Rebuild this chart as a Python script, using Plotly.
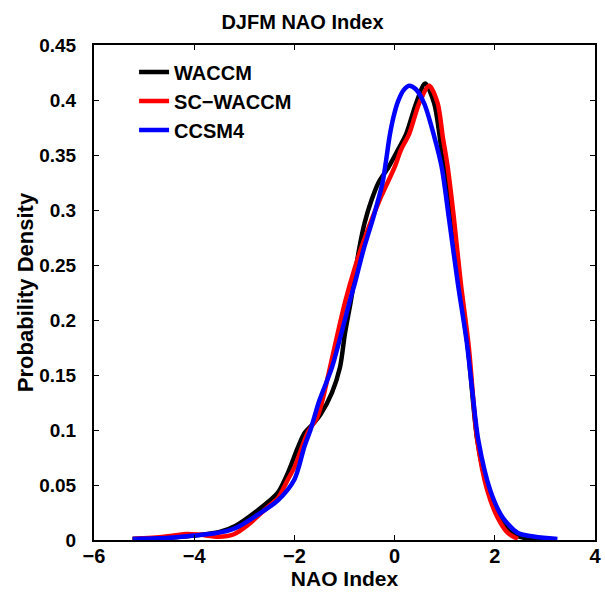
import plotly.graph_objects as go

# NAO index values (x) and probability densities (y)
waccm_x = [-5.23, -4.5, -4.01, -3.51, -3.18, -2.73, -2.33, -2.13, -1.94, -1.80, -1.62, -1.48,
           -1.25, -1.09, -0.99, -0.87, -0.71, -0.60, -0.46, -0.32, -0.12, 0.07, 0.23, 0.43,
           0.61, 0.79, 0.90, 0.98, 1.12, 1.28, 1.46, 1.65, 1.87, 2.09, 2.34, 2.70, 3.1]
waccm_y = [0.001, 0.002, 0.004, 0.007, 0.0127, 0.027, 0.043, 0.061, 0.083, 0.097, 0.106, 0.114,
           0.134, 0.157, 0.188, 0.218, 0.264, 0.288, 0.309, 0.325, 0.339, 0.355, 0.369, 0.397,
           0.415, 0.397, 0.367, 0.339, 0.294, 0.234, 0.176, 0.091, 0.045, 0.021, 0.006, 0.001, 0.0005]

sc_waccm_x = [-5.23, -4.6, -4.17, -3.91, -3.51, -3.22, -2.92, -2.53, -2.33, -2.13, -2.00, -1.74,
              -1.54, -1.44, -1.21, -0.99, -0.79, -0.56, -0.30, 0.0, 0.13, 0.29, 0.49, 0.69,
              0.86, 0.96, 1.06, 1.18, 1.32, 1.48, 1.65, 1.85, 2.05, 2.26, 2.46]
sc_waccm_y = [0.001, 0.003, 0.0055, 0.005, 0.003, 0.005, 0.014, 0.03, 0.038, 0.055, 0.066, 0.097,
              0.112, 0.127, 0.173, 0.216, 0.248, 0.279, 0.309, 0.339, 0.355, 0.369, 0.397, 0.413,
              0.397, 0.367, 0.339, 0.294, 0.234, 0.176, 0.091, 0.045, 0.021, 0.0064, 0.001]

ccsm4_x = [-5.23, -4.5, -4.01, -3.61, -3.32, -3.12, -2.73, -2.33, -2.00, -1.80, -1.68, -1.50,
           -1.25, -0.89, -0.79, -0.62, -0.42, -0.24, -0.17, -0.10, -0.02, 0.07, 0.18, 0.29,
           0.42, 0.59, 0.79, 0.94, 1.08, 1.26, 1.44, 1.55, 1.67, 1.91, 2.15, 2.46, 2.80, 3.25]
ccsm4_y = [0.001, 0.002, 0.004, 0.006, 0.0085, 0.012, 0.023, 0.036, 0.055, 0.085, 0.10, 0.127,
           0.157, 0.218, 0.234, 0.264, 0.294, 0.325, 0.345, 0.367, 0.385, 0.399, 0.409, 0.413,
           0.410, 0.397, 0.367, 0.339, 0.294, 0.234, 0.18, 0.136, 0.091, 0.045, 0.021, 0.0064,
           0.003, 0.001]

x_ticks = [-6, -4, -2, 0, 2, 4]
x_tick_labels = ["\u22126", "\u22124", "\u22122", "0", "2", "4"]
y_ticks = [0, 0.05, 0.1, 0.15, 0.2, 0.25, 0.3, 0.35, 0.4, 0.45]
y_tick_labels = ["0", "0.05", "0.1", "0.15", "0.2", "0.25", "0.3", "0.35", "0.4", "0.45"]

series = [
    ("WACCM", waccm_x, waccm_y, "#000000"),
    ("SC\u2212WACCM", sc_waccm_x, sc_waccm_y, "#ff0000"),
    ("CCSM4", ccsm4_x, ccsm4_y, "#0000ff"),
]

FONT = "Liberation Sans, Arial, sans-serif"

fig = go.Figure()
for name, xs, ys, color in series:
    fig.add_trace(go.Scatter(
        x=xs, y=ys, mode="lines", name=name,
        line=dict(color=color, width=4.5, shape="spline", smoothing=0.8),
    ))

fig.update_layout(
    width=605, height=595,
    margin=dict(l=94, r=4, t=45, b=55),
    paper_bgcolor="white", plot_bgcolor="white",
    font=dict(family=FONT, size=18, color="black", weight="bold"),
    title=dict(text="DJFM NAO Index", x=0.5, xanchor="center", y=0.963, yanchor="middle",
               font=dict(family=FONT, size=20, color="black", weight="bold")),
    showlegend=True,
    legend=dict(x=0.08, y=0.985, xanchor="left", yanchor="top",
                bgcolor="rgba(0,0,0,0)", borderwidth=0,
                font=dict(family=FONT, size=20, color="black", weight="bold"),
                tracegroupgap=0, itemwidth=30),
    xaxis=dict(range=[-6, 4], tickvals=x_ticks, ticktext=x_tick_labels,
               showline=True, linecolor="black", linewidth=2, mirror="ticks",
               ticks="inside", ticklen=5, tickwidth=1, tickcolor="black",
               showgrid=False, zeroline=False, ticklabeloverflow="allow",
               ticklabelstandoff=-3,
               tickfont=dict(family=FONT, size=20, weight="bold"),
               title=dict(text="NAO Index", standoff=4,
                          font=dict(family=FONT, size=21, weight="bold"))),
    yaxis=dict(range=[0, 0.45], tickvals=y_ticks, ticktext=y_tick_labels,
               showline=True, linecolor="black", linewidth=2, mirror="ticks",
               ticks="inside", ticklen=5, tickwidth=1, tickcolor="black",
               showgrid=False, zeroline=False, ticklabelstandoff=12,
               tickfont=dict(family=FONT, size=19, weight="bold"),
               title=dict(text="Probability Density", standoff=0,
                          font=dict(family=FONT, size=22, weight="bold"))),
)

fig.write_html("out.html")
